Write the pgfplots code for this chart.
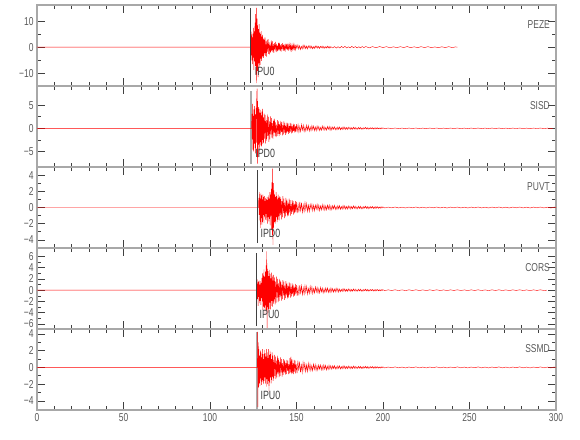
\documentclass[border=0pt]{standalone}
\usepackage{fontspec}
\setmainfont{Liberation Sans}[FakeStretch=0.74]
\usepackage{pgfplots}
\pgfplotsset{compat=1.18}
\definecolor{axgray}{HTML}{A8A8A8}
\definecolor{txtgray}{HTML}{5A5A5A}
\definecolor{tickc}{HTML}{404040}
\definecolor{pickgray}{HTML}{AAAAAA}
\pgfplotsset{seis/.style={
  width=519bp, height=81bp, scale only axis, anchor=south west,
  xmin=0, xmax=300,
  xtick={0,50,...,300}, minor x tick num=4,
  minor y tick num=1,
  axis line style={axgray, line width=1.2bp},
  major tick length=8bp, minor tick length=4bp,
  every tick/.style={tickc, line width=0.6bp},
  tick label style={font=\fontsize{11.5}{11.5}\selectfont, text=txtgray},
  /pgf/number format/assume math mode=true,
  xticklabels={},
  clip=true,
}}
\tikzset{stn/.style={anchor=east, font=\fontsize{11.5}{11.5}\selectfont, text=txtgray, inner sep=0pt},
  pk/.style={anchor=west, font=\fontsize{12}{12}\selectfont, text=tickc, inner sep=0pt},
  tr/.style={red, line width=0.4pt}}
\begin{document}
\begin{tikzpicture}
\path[use as bounding box] (0,0) rectangle (580bp,440bp);
% ---------------- PEZE
\begin{axis}[seis, at={(37bp,354bp)}, ymin=-15, ymax=16.3, ytick={-10,0,10}, yticklabels={−10,0,10}]
\addplot[tr] coordinates {(0,0)(123.3,0)
(123.4,0)(123.6,4.5)(123.8,-3.2)(124.0,6.0)(124.2,-5.1)(124.4,3.8)(124.6,-6.5)(124.8,5.2)(125.0,-4.0)(125.2,7.5)
(125.4,-8.8)(125.6,6.1)(125.8,-5.5)(126.0,9.5)(126.2,-7.2)(126.4,12.8)(126.6,-10.5)(126.8,15.2)(127.0,-13.9)(127.2,11.0)
(127.4,-9.2)(127.6,8.4)(127.8,-11.6)(128.0,7.0)(128.2,-6.3)(128.4,8.9)(128.6,-7.5)(128.8,5.6)(129.0,-6.8)(129.2,5.0)
(129.4,-4.4)(129.6,6.2)(129.8,-5.3)(130.0,4.1)(130.2,-3.9)(130.4,4.8)(130.6,-3.5)(130.8,3.2)(131.0,-4.1)
(131.2,3.6)(131.5,-2.9)(131.8,3.9)(132.1,-3.4)(132.4,2.2)(132.7,-3.6)(133.0,2.8)(133.3,-1.7)(133.6,3.1)(133.9,-2.6)
(134.2,1.9)(134.5,-2.8)(134.8,1.0)(135.1,-2.1)(135.4,2.6)(135.7,-1.5)(136.0,2.3)(136.3,-1.9)(136.6,1.2)(136.9,-2.2)
(137.2,1.6)(137.5,-0.9)(137.8,2.0)(138.1,-1.6)(138.4,1.3)(138.7,-1.9)(139.0,0.7)(139.3,-1.4)(139.6,1.8)(139.9,-1.1)
(140.2,1.7)(140.5,-1.4)(140.8,0.9)(141.1,-1.7)(141.4,1.2)(141.7,-0.7)(142.0,1.6)(142.3,-1.3)(142.6,1.0)(142.9,-1.5)
(143.2,0.5)(143.5,-1.1)(143.8,1.4)(144.1,-0.8)(144.4,1.3)(144.7,-1.1)(145.0,0.7)(145.3,-1.3)(145.6,0.9)(145.9,-0.5)
(146.2,1.2)(146.5,-1.0)(146.8,0.8)(147.1,-1.2)(147.4,0.4)(147.7,-0.9)(148.0,1.1)(148.3,-0.6)(148.6,1.0)(148.9,-0.8)
(149.2,0.5)(149.5,-1.0)(149.8,0.7)
(150.3,-0.4)(150.8,0.9)(151.3,-0.7)(151.8,0.6)(152.3,-0.9)(152.8,0.3)(153.3,-0.7)(153.8,0.8)(154.3,-0.5)(154.8,0.7)
(155.3,-0.6)(155.8,0.4)(156.3,-0.7)(156.8,0.5)(157.3,-0.3)(157.8,0.6)(158.3,-0.5)(158.8,0.4)(159.3,-0.6)(159.8,0.2)
(160.3,-0.5)(160.8,0.5)(161.3,-0.3)(161.8,0.5)(162.3,-0.4)(162.8,0.3)(163.3,-0.5)(163.8,0.3)(164.3,-0.2)(164.8,0.4)
(165.3,-0.4)(165.8,0.3)(166.3,-0.4)(166.8,0.2)(167.3,-0.3)(167.8,0.4)(168.3,-0.3)(168.8,0.3)(169.3,-0.4)(169.8,0.2)
(171,-0.3)(172,0.25)(173,-0.35)(174,0.2)(175,-0.3)(176,0.3)(177,-0.2)(178,0.3)(179,-0.3)(180,0.15)
(181,-0.25)(182,0.3)(183,-0.2)(184,0.25)(185,-0.3)(186,0.15)(187,-0.25)(188,0.25)(189,-0.15)(190,0.25)
(192,-0.25)(194,0.2)(196,-0.2)(198,0.25)(200,-0.15)(202,0.2)(204,-0.25)(206,0.15)(208,-0.2)(210,0.2)
(212,-0.15)(214,0.25)(216,-0.2)(218,0.15)(220,-0.2)(222,0.2)(224,-0.15)(226,0.2)(228,-0.2)(230,0.1)
(232,-0.2)(234,0.15)(236,-0.15)(238,0.2)(240,-0.15)(242,0.1)(243,0)};
\addplot[tickc, line width=0.8bp] coordinates {(123.4,-13.8)(123.4,15.2)};
\node[pk] at (axis cs:125.8,-9.4) {IPU0};
\node[stn] at (rel axis cs:0.9885,0.76) {PEZE};
\end{axis}
% ---------------- SISD
\begin{axis}[seis, at={(37bp,273bp)}, ymin=-8.35, ymax=9.15, ytick={-5,0,5}, yticklabels={−5,0,5}]
\addplot[pickgray, line width=2.4bp] coordinates {(123.8,-7.6)(123.8,8.1)};
\addplot[tr] coordinates {(0,0)(123.9,0)
(124.0,0)(124.2,3.1)(124.4,-2.4)(124.6,5.3)(124.8,-4.6)(125.0,2.7)(125.2,-5.0)(125.4,4.1)(125.6,-3.3)(125.8,4.8)
(126.0,-4.2)(126.2,3.0)(126.4,-5.4)(126.6,4.4)(126.8,-3.1)(127.0,6.8)(127.2,8.6)(127.4,-7.6)(127.6,5.9)(127.8,-6.2)
(128.0,4.6)(128.2,-3.5)(128.4,4.2)(128.6,-4.9)(128.8,3.4)(129.0,-3.0)(129.2,4.0)(129.4,-3.7)(129.6,2.8)(129.8,-3.9)
(130.0,3.6)(130.2,-2.5)(130.4,4.2)(130.6,-3.4)(130.8,2.4)(131.0,-3.1)
(131.3,3.2)(131.6,-2.2)(131.9,2.9)(132.2,-3.3)(132.5,1.8)(132.8,-2.7)(133.1,3.0)(133.4,-1.6)(133.7,2.5)(134.0,-2.9)
(134.3,1.5)(134.6,-2.4)(134.9,2.6)(135.2,-1.3)(135.5,2.2)(135.8,-2.0)(136.1,1.1)(136.4,-2.3)(136.7,1.9)(137.0,-1.0)
(137.3,2.1)(137.6,-1.7)(137.9,1.3)(138.2,-1.9)(138.5,0.8)(138.8,-1.6)(139.1,1.8)(139.4,-1.2)(139.7,1.5)(140.0,-1.7)
(140.3,0.9)(140.6,-1.4)(140.9,1.6)(141.2,-0.8)(141.5,1.4)(141.8,-1.5)(142.1,0.7)(142.4,-1.3)(142.7,1.5)(143.0,-0.9)
(143.3,1.2)(143.6,-1.4)(143.9,0.6)(144.2,-1.1)(144.5,1.3)(144.8,-0.8)(145.1,1.1)(145.4,-1.2)(145.7,0.5)(146.0,-1.0)
(146.3,1.2)(146.6,-0.7)(146.9,1.0)(147.2,-1.1)(147.5,0.5)(147.8,-0.9)(148.1,1.0)(148.4,-0.6)(148.7,0.9)(149.0,-0.9)
(149.3,0.4)(149.6,-0.8)(149.9,0.9)
(150.4,-0.6)(150.9,0.8)(151.4,-0.8)(151.9,0.4)(152.4,-0.7)(152.9,0.8)(153.4,-0.4)(153.9,0.7)(154.4,-0.7)(154.9,0.3)
(155.4,-0.6)(155.9,0.7)(156.4,-0.4)(156.9,0.6)(157.4,-0.6)(157.9,0.3)(158.4,-0.5)(158.9,0.6)(159.4,-0.3)(159.9,0.5)
(160.4,-0.5)(160.9,0.3)(161.4,-0.5)(161.9,0.5)(162.4,-0.3)(162.9,0.4)(163.4,-0.5)(163.9,0.2)(164.4,-0.4)(164.9,0.5)
(165.4,-0.3)(165.9,0.4)(166.4,-0.4)(166.9,0.2)(167.4,-0.4)(167.9,0.4)(168.4,-0.2)(168.9,0.4)(169.4,-0.4)(169.9,0.3)
(170.4,-0.35)(170.9,0.3)(171.4,-0.2)(171.9,0.35)(172.4,-0.3)(172.9,0.15)(173.4,-0.3)(173.9,0.3)(174.4,-0.2)(174.9,0.3)
(175.4,-0.3)(175.9,0.15)(176.4,-0.25)(176.9,0.3)(177.4,-0.2)(177.9,0.25)(178.4,-0.25)(178.9,0.15)(179.4,-0.25)(179.9,0.25)
(180.4,-0.15)(180.9,0.2)(181.4,-0.25)(181.9,0.15)(182.4,-0.2)(182.9,0.25)(183.4,-0.15)(183.9,0.2)(184.4,-0.2)(184.9,0.1)
(185.4,-0.2)(185.9,0.2)(186.4,-0.15)(186.9,0.2)(187.4,-0.2)(187.9,0.1)(188.4,-0.2)(188.9,0.15)(189.4,-0.1)(189.9,0.2)
(190.4,-0.15)(190.9,0.15)(191.4,-0.2)(191.9,0.1)(192.4,-0.15)(192.9,0.15)(193.4,-0.1)(193.9,0.15)(194.4,-0.15)(194.9,0.1)
(195.4,-0.15)(195.9,0.15)(196.4,-0.1)(196.9,0.12)(197.4,-0.12)(197.9,0.08)(198.4,-0.12)(198.9,0.12)(199.4,-0.08)(199.9,0.1)
(201,-0.07)(203,0.06)(205,-0.05)(207,0.07)(209,-0.06)(211,0.05)(213,-0.07)(215,0.06)(217,-0.05)(219,0.07)
(221,-0.06)(223,0.05)(225,-0.07)(227,0.06)(229,-0.05)(231,0.07)(233,-0.06)(235,0.05)(237,-0.07)(239,0.06)
(241,-0.05)(243,0.07)(245,-0.06)(247,0.05)(249,-0.07)(251,0.06)(253,-0.05)(255,0.07)(257,-0.06)(259,0.05)
(261,-0.07)(263,0.06)(265,-0.05)(267,0.07)(269,-0.06)(271,0.05)(273,-0.07)(275,0.06)(277,-0.05)(279,0.07)
(281,-0.06)(283,0.05)(285,-0.07)(287,0.06)(289,-0.05)(291,0.07)(293,-0.06)(295,0.05)(297,-0.07)(298,0)};
\node[pk] at (axis cs:126.1,-5.4) {IPD0};
\node[stn] at (rel axis cs:0.9885,0.76) {SISD};
\end{axis}
% ---------------- PUVT
\begin{axis}[seis, at={(37bp,192bp)}, ymin=-5, ymax=5, ytick={-4,-2,0,2,4}, yticklabels={−4,−2,0,2,4}]
\addplot[tr] coordinates {(0,0)(127.9,0)
(128.0,0)(128.2,1.2)(128.4,-0.9)(128.6,1.9)(128.8,-1.6)(129.0,1.1)(129.2,-2.5)(129.4,1.7)(129.6,-1.3)(129.8,1.5)
(130.0,-2.1)(130.2,1.0)(130.4,-1.8)(130.6,1.6)(130.8,-0.9)(131.0,1.3)(131.2,-1.9)(131.4,1.4)(131.6,-1.1)(131.8,0.8)
(132.0,-1.5)(132.2,1.2)(132.4,-0.8)(132.6,1.0)(132.8,-1.6)(133.0,1.3)(133.2,-2.0)(133.4,0.9)(133.6,-1.2)(133.8,1.5)
(134.0,-1.7)(134.2,1.1)(134.4,-1.4)(134.6,1.9)(134.8,-2.2)(135.0,1.6)(135.2,-1.0)(135.4,2.3)(135.6,-2.8)(135.8,3.1)
(136.0,-3.4)(136.2,4.8)(136.4,-4.6)(136.6,3.0)(136.8,-2.5)(137.0,2.1)(137.2,-1.8)(137.4,1.6)(137.6,-2.0)(137.8,1.3)
(138.0,-1.7)(138.2,1.9)(138.4,-1.2)(138.6,1.4)(138.8,-1.8)(139.0,1.0)(139.2,-1.5)(139.4,1.6)(139.6,-1.1)(139.8,1.2)
(140.0,-1.6)
(140.3,1.4)(140.6,-0.9)(140.9,1.3)(141.2,-1.5)(141.5,0.8)(141.8,-1.2)(142.1,1.4)(142.4,-0.7)(142.7,1.1)(143.0,-1.3)
(143.3,0.6)(143.6,-1.1)(143.9,1.2)(144.2,-0.7)(144.5,1.0)(144.8,-1.1)(145.1,0.5)(145.4,-1.0)(145.7,1.1)(146.0,-0.6)
(146.3,0.9)(146.6,-1.0)(146.9,0.4)(147.2,-0.8)(147.5,0.9)(147.8,-0.5)(148.1,0.8)(148.4,-0.9)(148.7,0.4)(149.0,-0.7)
(149.3,0.8)(149.6,-0.5)(149.9,0.7)
(150.4,-0.7)(150.9,0.4)(151.4,-0.6)(151.9,0.7)(152.4,-0.4)(152.9,0.6)(153.4,-0.6)(153.9,0.3)(154.4,-0.5)(154.9,0.6)
(155.4,-0.3)(155.9,0.5)(156.4,-0.5)(156.9,0.3)(157.4,-0.5)(157.9,0.4)(158.4,-0.2)(158.9,0.4)(159.4,-0.4)(159.9,0.3)
(160.4,-0.4)(160.9,0.3)(161.4,-0.2)(161.9,0.4)(162.4,-0.3)(162.9,0.3)(163.4,-0.4)(163.9,0.2)(164.4,-0.3)(164.9,0.35)
(165.4,-0.25)(165.9,0.3)(166.4,-0.35)(166.9,0.2)(167.4,-0.3)(167.9,0.3)(168.4,-0.2)(168.9,0.3)(169.4,-0.3)(169.9,0.2)
(170.4,-0.28)(170.9,0.24)(171.4,-0.16)(171.9,0.28)(172.4,-0.24)(172.9,0.12)(173.4,-0.24)(173.9,0.24)(174.4,-0.16)(174.9,0.24)
(175.4,-0.24)(175.9,0.12)(176.4,-0.2)(176.9,0.24)(177.4,-0.16)(177.9,0.2)(178.4,-0.2)(178.9,0.12)(179.4,-0.2)(179.9,0.2)
(180.4,-0.12)(180.9,0.16)(181.4,-0.2)(181.9,0.12)(182.4,-0.16)(182.9,0.2)(183.4,-0.12)(183.9,0.16)(184.4,-0.16)(184.9,0.08)
(185.4,-0.16)(185.9,0.16)(186.4,-0.12)(186.9,0.16)(187.4,-0.16)(187.9,0.08)(188.4,-0.16)(188.9,0.12)(189.4,-0.08)(189.9,0.16)
(190.4,-0.12)(190.9,0.12)(191.4,-0.16)(191.9,0.08)(192.4,-0.12)(192.9,0.12)(193.4,-0.08)(193.9,0.12)(194.4,-0.12)(194.9,0.08)
(195.4,-0.12)(195.9,0.12)(196.4,-0.08)(196.9,0.1)(197.4,-0.1)(197.9,0.06)(198.4,-0.1)(198.9,0.1)(199.4,-0.06)(199.9,0.08)
(201,-0.06)(203,0.05)(205,-0.04)(207,0.06)(209,-0.05)(211,0.04)(213,-0.06)(215,0.05)(217,-0.04)(219,0.06)
(221,-0.05)(223,0.04)(225,-0.06)(227,0.05)(229,-0.04)(231,0.06)(233,-0.05)(235,0.04)(237,-0.06)(239,0.05)
(241,-0.04)(243,0.06)(245,-0.05)(247,0.04)(249,-0.06)(251,0.05)(253,-0.04)(255,0.06)(257,-0.05)(259,0.04)
(261,-0.06)(263,0.05)(265,-0.04)(267,0.06)(269,-0.05)(271,0.04)(273,-0.06)(275,0.05)(277,-0.04)(279,0.06)
(281,-0.05)(283,0.04)(285,-0.06)(287,0.05)(289,-0.04)(291,0.06)(293,-0.05)(295,0.04)(297,-0.06)(299,0.05)(300,0)};
\addplot[tickc, line width=0.8bp] coordinates {(127.6,-4.4)(127.6,4.6)};
\node[pk] at (axis cs:129.1,-3.2) {IPD0};
\node[stn] at (rel axis cs:0.9885,0.76) {PUVT};
\end{axis}
% ---------------- CORS
\begin{axis}[seis, at={(37bp,111bp)}, ymin=-6.9, ymax=7.5, ytick={-6,-4,-2,0,2,4,6}, yticklabels={−6,−4,−2,0,2,4,6}]
\addplot[tr] coordinates {(0,0)(126.9,0)
(127.0,0)(127.2,1.1)(127.4,-1.6)(127.6,1.9)(127.8,-2.8)(128.0,1.5)(128.2,-1.2)(128.4,1.7)(128.6,-2.3)(128.8,1.0)
(129.0,-1.9)(129.2,1.6)(129.4,-2.6)(129.6,1.3)(129.8,-1.4)(130.0,2.2)(130.2,-2.0)(130.4,3.0)(130.6,-3.5)(130.8,2.6)
(131.0,-2.9)(131.2,3.7)(131.4,-3.1)(131.6,2.4)(131.8,-4.3)(132.0,3.3)(132.2,-2.7)(132.4,4.4)(132.6,-3.6)(132.8,6.9)
(133.0,-6.7)(133.2,3.8)(133.4,-3.0)(133.6,3.4)(133.8,-4.0)(134.0,2.5)(134.2,-3.3)(134.4,3.6)(134.6,-2.2)(134.8,2.9)
(135.0,-3.4)(135.2,2.1)(135.4,-2.8)(135.6,3.1)(135.8,-1.9)(136.0,2.6)(136.2,-2.9)(136.4,1.7)(136.6,-2.4)(136.8,2.7)
(137.0,-2.0)
(137.3,2.3)(137.6,-2.5)(137.9,1.5)(138.2,-2.2)(138.5,2.4)(138.8,-1.3)(139.1,2.0)(139.4,-2.1)(139.7,1.2)(140.0,-1.9)
(140.3,2.0)(140.6,-1.1)(140.9,1.7)(141.2,-1.9)(141.5,1.0)(141.8,-1.6)(142.1,1.8)(142.4,-0.9)(142.7,1.5)(143.0,-1.7)
(143.3,0.8)(143.6,-1.4)(143.9,1.6)(144.2,-0.9)(144.5,1.3)(144.8,-1.5)(145.1,0.7)(145.4,-1.3)(145.7,1.4)(146.0,-0.8)
(146.3,1.2)(146.6,-1.3)(146.9,0.6)(147.2,-1.1)(147.5,1.2)(147.8,-0.7)(148.1,1.0)(148.4,-1.2)(148.7,0.5)(149.0,-1.0)
(149.3,1.1)(149.6,-0.6)(149.9,0.9)
(150.4,-1.0)(150.9,0.5)(151.4,-0.9)(151.9,0.9)(152.4,-0.5)(152.9,0.8)(153.4,-0.8)(153.9,0.4)(154.4,-0.7)(154.9,0.8)
(155.4,-0.4)(155.9,0.7)(156.4,-0.7)(156.9,0.3)(157.4,-0.6)(157.9,0.7)(158.4,-0.4)(158.9,0.6)(159.4,-0.6)(159.9,0.3)
(160.4,-0.5)(160.9,0.6)(161.4,-0.3)(161.9,0.5)(162.4,-0.5)(162.9,0.3)(163.4,-0.5)(163.9,0.5)(164.4,-0.3)(164.9,0.4)
(165.4,-0.5)(165.9,0.2)(166.4,-0.4)(166.9,0.4)(167.4,-0.3)(167.9,0.4)(168.4,-0.4)(168.9,0.2)(169.4,-0.4)(169.9,0.4)
(170.4,-0.3)(170.9,0.3)(171.4,-0.35)(171.9,0.2)(172.4,-0.3)(172.9,0.35)(173.4,-0.25)(173.9,0.3)(174.4,-0.35)(174.9,0.2)
(175.4,-0.27)(175.9,0.14)(176.4,-0.23)(176.9,0.27)(177.4,-0.18)(177.9,0.23)(178.4,-0.23)(178.9,0.14)(179.4,-0.23)(179.9,0.23)
(180.4,-0.14)(180.9,0.18)(181.4,-0.23)(181.9,0.14)(182.4,-0.18)(182.9,0.23)(183.4,-0.14)(183.9,0.18)(184.4,-0.18)(184.9,0.09)
(185.4,-0.18)(185.9,0.18)(186.4,-0.14)(186.9,0.18)(187.4,-0.18)(187.9,0.09)(188.4,-0.18)(188.9,0.14)(189.4,-0.09)(189.9,0.18)
(190.4,-0.14)(190.9,0.14)(191.4,-0.18)(191.9,0.09)(192.4,-0.14)(192.9,0.14)(193.4,-0.09)(193.9,0.14)(194.4,-0.14)(194.9,0.09)
(195.4,-0.14)(195.9,0.14)(196.4,-0.09)(196.9,0.11)(197.4,-0.11)(197.9,0.07)(198.4,-0.11)(198.9,0.11)(199.4,-0.07)(199.9,0.09)
(201,-0.07)(203,0.06)(205,-0.05)(207,0.07)(209,-0.06)(211,0.05)(213,-0.07)(215,0.06)(217,-0.05)(219,0.07)
(221,-0.06)(223,0.05)(225,-0.07)(227,0.06)(229,-0.05)(231,0.07)(233,-0.06)(235,0.05)(237,-0.07)(239,0.06)
(241,-0.05)(243,0.07)(245,-0.06)(247,0.05)(249,-0.07)(251,0.06)(253,-0.05)(255,0.07)(257,-0.06)(259,0.05)
(261,-0.07)(263,0.06)(265,-0.05)(267,0.07)(269,-0.06)(271,0.05)(273,-0.07)(275,0.06)(277,-0.05)(279,0.07)
(281,-0.06)(283,0.05)(285,-0.07)(287,0.06)(289,-0.05)(291,0.07)(293,-0.06)(294.7,0)};
\addplot[tickc, line width=0.8bp] coordinates {(126.8,-6.4)(126.8,6.6)};
\node[pk] at (axis cs:128.6,-4.3) {IPU0};
\node[stn] at (rel axis cs:0.9885,0.76) {CORS};
\end{axis}
% ---------------- SSMD
\begin{axis}[seis, at={(37bp,30bp)}, ymin=-5.1, ymax=4.6, ytick={-4,-2,0,2,4}, yticklabels={−4,−2,0,2,4},
  xticklabels={0,50,100,150,200,250,300}]
\addplot[pickgray, line width=2.4bp] coordinates {(127.2,-4.95)(127.2,4.25)};
\addplot[tr] coordinates {(0,0)(127.3,0)
(127.4,0)(127.5,4.25)(127.7,-4.75)(127.9,3.0)(128.1,-2.4)(128.3,2.2)(128.5,-1.9)(128.7,1.4)(128.9,-2.2)(129.1,2.0)
(129.3,-1.3)(129.5,1.8)(129.7,-2.1)(129.9,1.2)(130.1,-1.7)(130.3,2.2)(130.5,-1.5)(130.7,1.6)(130.9,-2.0)(131.1,1.0)
(131.3,-1.6)(131.5,2.1)(131.7,-1.2)(131.9,1.7)(132.1,-1.9)(132.3,1.3)(132.5,-2.3)(132.7,2.2)(132.9,-1.4)(133.1,1.8)
(133.3,-2.0)(133.5,1.1)(133.7,-1.6)(133.9,2.2)(134.1,-2.9)(134.3,1.5)(134.5,-1.8)(134.7,2.0)(134.9,-1.2)(135.1,1.6)
(135.3,-1.9)(135.5,1.0)(135.7,-1.5)(135.9,1.8)(136.1,-1.1)(136.3,1.4)(136.5,-1.6)(136.7,0.9)(136.9,-1.3)
(137.2,1.5)(137.5,-1.0)(137.8,1.3)(138.1,-1.4)(138.4,0.8)(138.7,-1.2)(139.0,1.4)(139.3,-0.7)(139.6,1.1)(139.9,-1.2)
(140.2,0.7)(140.5,-1.0)(140.8,1.2)(141.1,-0.6)(141.4,1.0)(141.7,-1.1)(142.0,0.5)(142.3,-0.9)(142.6,1.0)(142.9,-0.6)
(143.2,0.9)(143.5,-0.9)(143.8,0.5)(144.1,-0.8)(144.4,0.9)(144.7,-0.4)(145.0,0.8)(145.3,-0.8)(145.6,0.4)(145.9,-0.7)
(146.2,1.1)(146.5,-0.6)(146.8,1.3)(147.1,-0.8)(147.4,1.0)(147.7,-0.7)(148.0,0.5)(148.3,-0.8)(148.6,0.9)(148.9,-0.5)
(149.2,0.8)(149.5,-0.7)(149.8,0.4)
(150.3,-0.7)(150.8,0.8)(151.3,-0.4)(151.8,0.7)(152.3,-0.6)(152.8,0.3)(153.3,-0.6)(153.8,0.6)(154.3,-0.3)(154.8,0.5)
(155.3,-0.5)(155.8,0.3)(156.3,-0.5)(156.8,0.5)(157.3,-0.3)(157.8,0.4)(158.3,-0.4)(158.8,0.2)(159.3,-0.4)(159.8,0.4)
(160.3,-0.25)(160.8,0.35)(161.3,-0.35)(161.8,0.2)(162.3,-0.35)(162.8,0.3)(163.3,-0.2)(163.8,0.3)(164.3,-0.3)(164.8,0.2)
(165.3,-0.3)(165.8,0.3)(166.3,-0.2)(166.8,0.25)(167.3,-0.3)(167.8,0.15)(168.3,-0.25)(168.8,0.25)(169.3,-0.2)(169.8,0.2)
(170.4,-0.22)(170.9,0.19)(171.4,-0.13)(171.9,0.22)(172.4,-0.19)(172.9,0.1)(173.4,-0.19)(173.9,0.19)(174.4,-0.13)(174.9,0.19)
(175.4,-0.19)(175.9,0.1)(176.4,-0.16)(176.9,0.19)(177.4,-0.13)(177.9,0.16)(178.4,-0.16)(178.9,0.1)(179.4,-0.16)(179.9,0.16)
(180.4,-0.1)(180.9,0.13)(181.4,-0.16)(181.9,0.1)(182.4,-0.13)(182.9,0.16)(183.4,-0.1)(183.9,0.13)(184.4,-0.13)(184.9,0.07)
(185.4,-0.13)(185.9,0.13)(186.4,-0.1)(186.9,0.13)(187.4,-0.13)(187.9,0.07)(188.4,-0.13)(188.9,0.1)(189.4,-0.07)(189.9,0.13)
(190.4,-0.1)(190.9,0.1)(191.4,-0.13)(191.9,0.07)(192.4,-0.1)(192.9,0.1)(193.4,-0.07)(193.9,0.1)(194.4,-0.1)(194.9,0.07)
(195.4,-0.1)(195.9,0.1)(196.4,-0.07)(196.9,0.08)(197.4,-0.08)(197.9,0.05)(198.4,-0.08)(198.9,0.08)(199.4,-0.05)(199.9,0.07)
(201,-0.06)(203,0.05)(205,-0.04)(207,0.06)(209,-0.05)(211,0.04)(213,-0.06)(215,0.05)(217,-0.04)(219,0.06)
(221,-0.05)(223,0.04)(225,-0.06)(227,0.05)(229,-0.04)(231,0.06)(233,-0.05)(235,0.04)(237,-0.06)(239,0.05)
(241,-0.04)(243,0.06)(245,-0.05)(247,0.04)(249,-0.06)(251,0.05)(253,-0.04)(255,0.06)(257,-0.05)(259,0.04)
(261,-0.06)(263,0.05)(265,-0.04)(267,0.06)(269,-0.05)(271,0.04)(273,-0.06)(275,0.05)(277,-0.04)(279,0.06)
(281,-0.05)(283,0.04)(285,-0.06)(287,0.05)(289,-0.04)(291,0.06)(293,-0.05)(295,0.04)(297,-0.06)(299,0.05)(300,0)};
\node[pk] at (axis cs:129.1,-3.4) {IPU0};
\node[stn] at (rel axis cs:0.9885,0.76) {SSMD};
\end{axis}
\end{tikzpicture}
\end{document}
